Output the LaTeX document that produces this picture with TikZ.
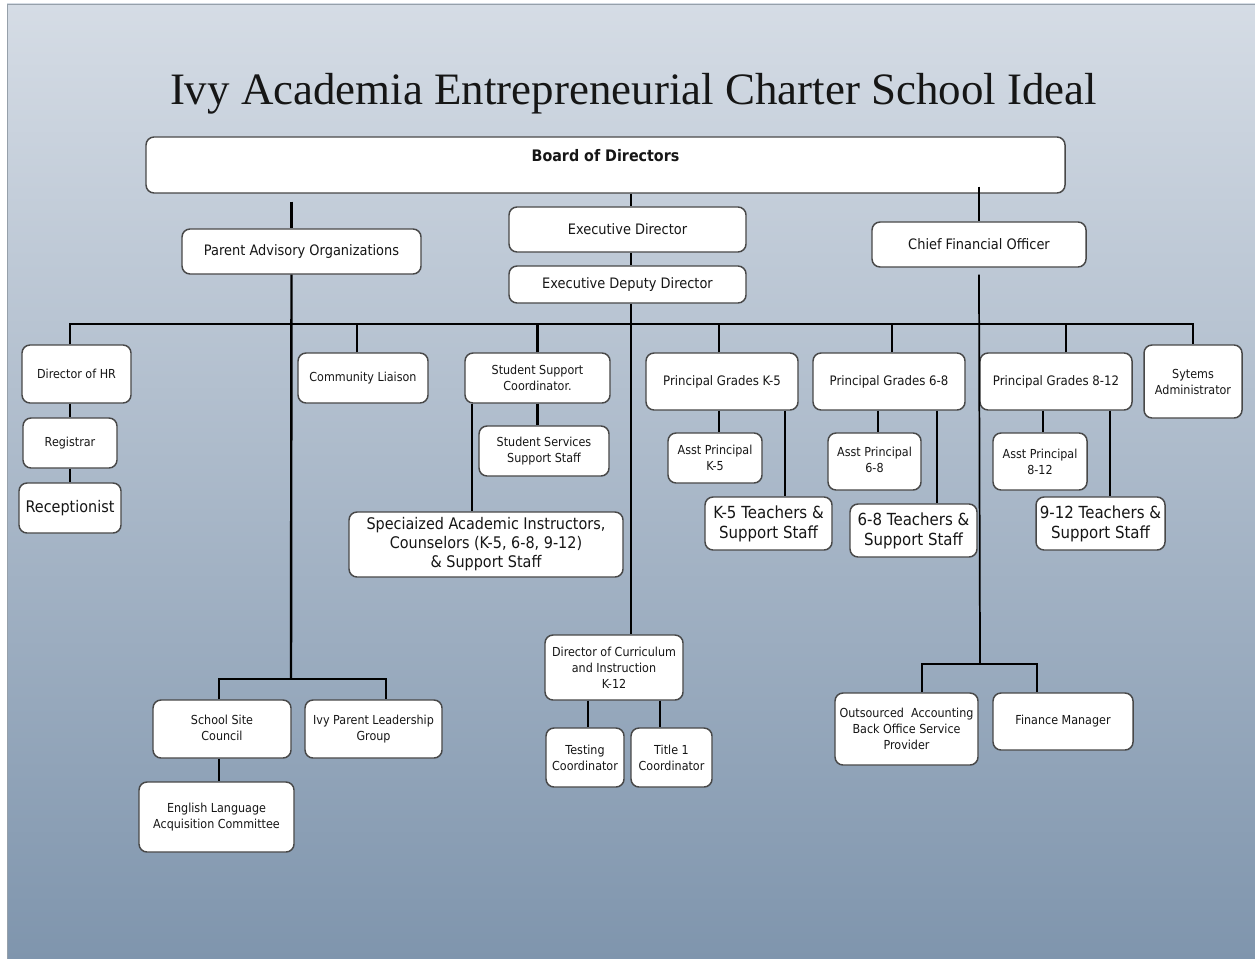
\documentclass[tikz,border=0pt]{standalone}
\usepackage{fontspec}
\setmainfont{Liberation Serif}
\newfontfamily\boxfamily{DejaVu Sans}[FakeStretch=0.9]
\usetikzlibrary{calc}

\definecolor{bgtop}{RGB}{213,220,229}
\definecolor{bgmid}{RGB}{178,192,207}
\definecolor{bgbot}{RGB}{127,149,173}
\definecolor{frameline}{RGB}{150,160,170}
\definecolor{boxline}{RGB}{72,72,72}
\definecolor{ink}{RGB}{22,22,22}

\newcommand\orgsmall{\boxfamily\fontsize{9.3}{12}\selectfont}
\newcommand\orghead{\boxfamily\fontsize{10.8}{12}\selectfont}
\newcommand\orgprin{\boxfamily\fontsize{9.8}{12}\selectfont}
\newcommand\orgbold{\boxfamily\bfseries\fontsize{11.9}{13}\selectfont}
\newcommand\orgmid{\boxfamily\fontsize{12}{14.2}\selectfont}
\newcommand\orglarge{\boxfamily\fontsize{12.5}{15}\selectfont}
\newcommand\orgtitle{\fontsize{33.7}{40}\selectfont}

\tikzset{
  orgbox/.style={draw=boxline, line width=1.1pt, fill=white, rounded corners=6pt,
    inner sep=0pt, align=center, font=\orgsmall, text=ink},
  sz/.style 2 args={minimum width=#1*0.75pt, minimum height=#2*0.75pt},
  link/.style={draw=black, line width=1.8pt},
  thinlink/.style={draw=black, line width=1.3pt},
}

\begin{document}
\begin{tikzpicture}[x=0.75pt, y=-0.75pt]
\useasboundingbox (0,0) rectangle (1255,959);

% slide background
\fill[white] (0,0) rectangle (1255,959);
\shade[top color=bgtop, middle color=bgmid, bottom color=bgbot] (7,4) rectangle (1255,959);
\draw[frameline, line width=1.2pt] (7.5,959) -- (7.5,4.5) -- (1255,4.5);

% title
\node[font=\orgtitle, text=ink, anchor=base, inner sep=0pt] (title) at (633.5,105)
  {Ivy Academia Entrepreneurial Charter School Ideal};

% top level
\node[orgbox, sz={919}{56}] (board) at (605.5,165) {\raisebox{15pt}{\orgbold Board of Directors}};
\node[orgbox, sz={239}{45}, font=\orghead] (pao) at (301.5,251.5) {Parent Advisory Organizations};
\node[orgbox, sz={237}{45}, font=\orghead] (ed) at (627.5,229.5) {Executive Director};
\node[orgbox, sz={237}{37}, font=\orghead] (edd) at (627.5,284.5) {Executive Deputy Director};
\node[orgbox, sz={214}{45}, font=\orghead] (cfo) at (979,244.5) {Chief Financial Officer};

% row under the deputy director
\node[orgbox, sz={109}{58}] (hr) at (76.5,374) {Director of HR};
\node[orgbox, sz={94}{50}] (reg) at (70,443) {Registrar};
\node[orgbox, sz={102}{50}, font=\orgmid] (rec) at (70,508) {Receptionist};
\node[orgbox, sz={130}{50}] (comm) at (363,378) {Community Liaison};
\node[orgbox, sz={145}{50}] (ssc) at (537.5,378) {Student Support\\Coordinator.};
\node[orgbox, sz={130}{50}] (sss) at (544,451) {Student Services\\Support Staff};
\node[orgbox, sz={274}{65}, font=\orgmid] (spec) at (486,544.5)
  {Speciaized Academic Instructors,\\Counselors (K-5, 6-8, 9-12)\\\& Support Staff};
\node[orgbox, sz={152}{57}, font=\orgprin] (pk5) at (722,381.5) {Principal Grades K-5};
\node[orgbox, sz={94}{50}] (ak5) at (715,458) {Asst Principal\\K-5};
\node[orgbox, sz={127}{53}, font=\orglarge] (tk5) at (768.5,523.5) {K-5 Teachers \&\\Support Staff};
\node[orgbox, sz={152}{57}, font=\orgprin] (p68) at (889,381.5) {Principal Grades 6-8};
\node[orgbox, sz={93}{57}] (a68) at (874.5,461.5) {\raisebox{10.5pt}{\begin{tabular}{@{}c@{}}Asst Principal\\6-8\end{tabular}}};
\node[orgbox, sz={127}{53}, font=\orglarge] (t68) at (913.5,530.5) {6-8 Teachers \&\\Support Staff};
\node[orgbox, sz={152}{57}, font=\orgprin] (p812) at (1056,381.5) {Principal Grades 8-12};
\node[orgbox, sz={94}{57}] (a812) at (1040,461.5) {Asst Principal\\8-12};
\node[orgbox, sz={129}{53}, font=\orglarge] (t812) at (1100.5,523.5) {9-12 Teachers \&\\Support Staff};
\node[orgbox, sz={98}{73}] (sys) at (1193,381.5) {Sytems\\Administrator};

% parent organisations
\node[orgbox, sz={138}{58}] (sscl) at (222,729) {\raisebox{9.75pt}{\begin{tabular}{@{}c@{}}School Site\\Council\end{tabular}}};
\node[orgbox, sz={137}{58}] (ipl) at (373.5,729) {Ivy Parent Leadership\\Group};
\node[orgbox, sz={155}{70}] (elac) at (216.5,817) {English Language\\Acquisition Committee};

% curriculum
\node[orgbox, sz={138}{65}] (dci) at (614,667.5) {Director of Curriculum\\and Instruction\\K-12};
\node[orgbox, sz={78}{59}] (tc) at (585,757.5) {Testing\\Coordinator};
\node[orgbox, sz={81}{59}] (t1) at (671.5,757.5) {Title 1\\Coordinator};

% finance
\node[orgbox, sz={143}{72}] (oabo) at (906.5,729) {Outsourced\ \ Accounting\\Back Office Service\\Provider};
\node[orgbox, sz={140}{57}] (fm) at (1063,721.5) {Finance Manager};

% junctions
\coordinate (bus) at ($(edd.south)+(3.5,20)$);
\coordinate (paoj) at ($(pao.south)+(-10.5,404)$);
\coordinate (cfoj) at ($(cfo.south)+(1,396)$);

% top level links
\draw[link] ([xshift=-7.5pt,yshift=-6pt]board.south -| pao.north) -- ([xshift=-7.5pt]pao.north);
\draw[link] ([xshift=2.6pt]board.south -| ed.north) -- ([xshift=2.6pt]ed.north);
\draw[link] ([xshift=2.6pt]ed.south) -- ([xshift=2.6pt]edd.north);
\draw[link] ([yshift=5.25pt]board.south -| cfo.north) -- (cfo.north);

% deputy director bus
\draw[link] ([xshift=2.6pt]edd.south) -- ([xshift=2.6pt]edd.south |- dci.north);
\draw[link] ([xshift=-4.9pt]hr.north) |- (bus) -| (sys.north);
\draw[link] ([xshift=-4.5pt]comm.north) -- ([xshift=-4.5pt]comm.north |- bus);
\draw[link] (ssc.north) -- (ssc.north |- bus);
\draw[link] ([xshift=-2.25pt]pk5.north) -- ([xshift=-2.25pt]pk5.north |- bus);
\draw[link] ([xshift=2.25pt]p68.north) -- ([xshift=2.25pt]p68.north |- bus);
\draw[link] ([xshift=7.5pt]p812.north) -- ([xshift=7.5pt]p812.north |- bus);

% within groups
\draw[link] (reg.north |- hr.south) -- (reg.north);
\draw[link] (reg.south) -- (rec.north);
\draw[link] (ssc.south) -- (ssc.south |- sss.north);
\draw[thinlink] ([xshift=6pt]ssc.south west) -- ([xshift=6pt]ssc.south west |- spec.north);
\draw[link] ([xshift=-2.25pt]pk5.south) -- ([xshift=-2.25pt]pk5.south |- ak5.north);
\draw[thinlink] ([xshift=-10.5pt]pk5.south east) -- ([xshift=-10.5pt]pk5.south east |- tk5.north);
\draw[thinlink] ([xshift=-8.25pt]p68.south) -- ([xshift=-8.25pt]p68.south |- a68.north);
\draw[thinlink] ([xshift=-21.75pt]p68.south east) -- ([xshift=-21.75pt]p68.south east |- t68.north);
\draw[link] ([xshift=-9.75pt]p812.south) -- ([xshift=-9.75pt]p812.south |- a812.north);
\draw[link] ([xshift=-17.25pt]p812.south east) -- ([xshift=-17.25pt]p812.south east |- t812.north);

% parent organisations
\draw[link] ([xshift=-7.5pt]pao.south) -- (paoj);
\draw[link] ([xshift=-2.25pt]sscl.north) |- (paoj) -| ([xshift=9.4pt]ipl.north);
\draw[link] ([xshift=-2.25pt]sscl.south) -- ([xshift=-2.25pt]sscl.south |- elac.north);

% curriculum
\draw[link] ([xshift=2.25pt]tc.north |- dci.south) -- ([xshift=2.25pt]tc.north);
\draw[link] ([xshift=-8.6pt]t1.north |- dci.south) -- ([xshift=-8.6pt]t1.north);

% finance
\draw[thinlink] ([yshift=-5.25pt]cfo.south) -- (cfoj);
\draw[thinlink] ([xshift=11.6pt]oabo.north) |- (cfoj) -| ([xshift=-19.5pt]fm.north);
\end{tikzpicture}
\end{document}
